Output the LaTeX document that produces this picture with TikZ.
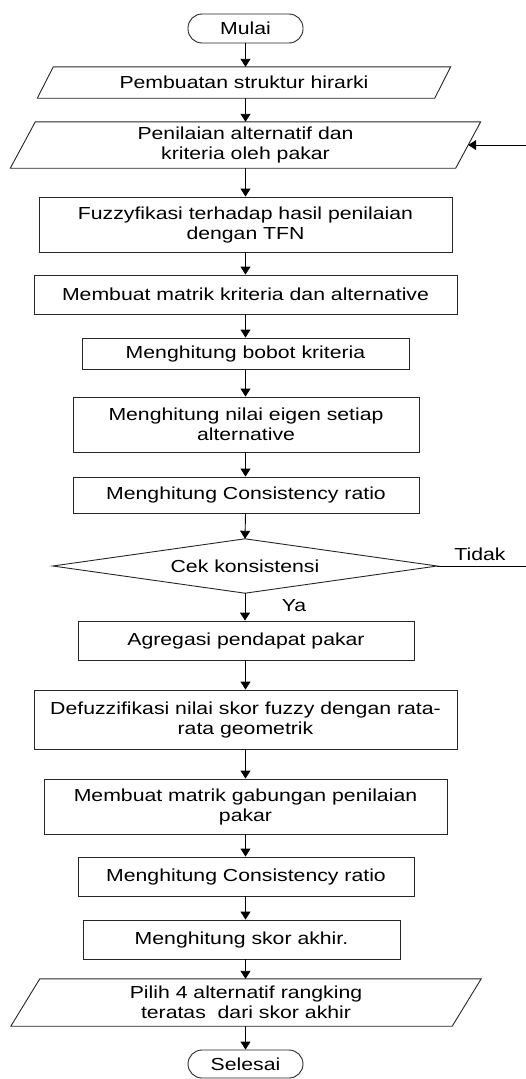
\documentclass[tikz,border=0pt]{standalone}
\usepackage{fontspec}
\setmainfont{Liberation Sans}[FakeStretch=1.22]
\usetikzlibrary{arrows.meta}
\newcommand\paradraw[2]{\draw[boxline] ([xshift=#2]#1.north west) -- ([xshift=#2]#1.north east) -- ([xshift=-#2]#1.south east) -- ([xshift=-#2]#1.south west) -- cycle;}
\begin{document}
\begin{tikzpicture}[x=1pt,y=-1pt,
  txt/.style={font=\fontsize{17.4}{20}\selectfont, align=center, inner sep=0pt},
  procbox/.style={txt, draw=black!85, line width=0.9pt, rectangle},
  termbox/.style={txt, draw=black!85, line width=0.9pt, rectangle, rounded corners=14pt, minimum width=115pt},
  plainbox/.style={txt, rectangle},
  boxline/.style={draw=black!85, line width=0.9pt},
  arr/.style={line width=0.9pt, -{Triangle[length=8pt,width=10pt]}},
  ln/.style={line width=0.9pt}]
\useasboundingbox (0,0) rectangle (526,1079);

\node[termbox, minimum height=29pt] (start) at (245.5,28.5) {Mulai};
\node[plainbox, minimum width=397pt, minimum height=31pt] (p1) at (244,82.5) {Pembuatan struktur hirarki};
\paradraw{p1}{8}
\node[plainbox, minimum width=445pt, minimum height=46pt] (p2) at (245.5,145) {Penilaian alternatif dan\\kriteria oleh pakar};
\paradraw{p2}{12.5}
\node[procbox, minimum width=413pt, minimum height=55pt] (b1) at (245.5,224.5) {Fuzzyfikasi terhadap hasil penilaian\\dengan TFN};
\node[procbox, minimum width=423pt, minimum height=39pt] (b2) at (245.5,294.5) {Membuat matrik kriteria dan alternative};
\node[procbox, minimum width=327pt, minimum height=31pt] (b3) at (245.5,353.5) {Menghitung bobot kriteria};
\node[procbox, minimum width=346pt, minimum height=55pt] (b4) at (246,424.5) {Menghitung nilai eigen setiap\\alternative};
\node[procbox, minimum width=346pt, minimum height=36pt] (b5) at (246,495) {Menghitung Consistency ratio};
\node[plainbox, minimum width=384pt, minimum height=54pt] (d) at (245,566) {Cek konsistensi};
\draw[boxline] (d.north) -- (d.east) -- (d.south) -- (d.west) -- cycle;
\node[procbox, minimum width=336pt, minimum height=39pt] (b6) at (246,640.5) {Agregasi pendapat pakar};
\node[procbox, minimum width=423pt, minimum height=59pt] (b7) at (245.5,719.5) {Defuzzifikasi nilai skor fuzzy dengan rata-\\rata geometrik};
\node[procbox, minimum width=403pt, minimum height=55pt] (b8) at (245.5,806.5) {Membuat matrik gabungan penilaian\\pakar};
\node[procbox, minimum width=336pt, minimum height=39pt] (b9) at (246,876.5) {Menghitung Consistency ratio};
\node[procbox, minimum width=317pt, minimum height=39pt] (b10) at (241.5,939.5) {Menghitung skor akhir.};
\node[plainbox, minimum width=441pt, minimum height=47pt] (p3) at (246,1002.5) {Pilih 4 alternatif rangking\\teratas\ \ dari skor akhir};
\paradraw{p3}{14.5}
\node[termbox, minimum height=28pt] (stop) at (245.5,1064) {Selesai};

\node[txt] (tidak) at (480,554) {Tidak};
\node[txt] (ya) at (294,606) {Ya};

\coordinate (tin) at (526,145);
\coordinate (tout) at (526,566);

\draw[arr] (start.south) -- (start.south |- p1.north);
\draw[arr] (start.south |- p1.south) -- (start.south |- p2.north);
\draw[arr] (start.south |- p2.south) -- (start.south |- b1.north);
\draw[arr] (start.south |- b1.south) -- (start.south |- b2.north);
\draw[arr] (start.south |- b2.south) -- (start.south |- b3.north);
\draw[arr] (start.south |- b3.south) -- (start.south |- b4.north);
\draw[arr] (start.south |- b4.south) -- (start.south |- b5.north);
\draw[arr] (start.south |- b5.south) -- (d.north);
\draw[arr] (d.south) -- (d.south |- b6.north);
\draw[arr] (start.south |- b6.south) -- (start.south |- b7.north);
\draw[arr] (start.south |- b7.south) -- (start.south |- b8.north);
\draw[arr] (start.south |- b8.south) -- (start.south |- b9.north);
\draw[arr] (start.south |- b9.south) -- (start.south |- b10.north);
\draw[arr] (start.south |- b10.south) -- (start.south |- p3.north);
\draw[arr] (start.south |- p3.south) -- (stop.north);
\draw[ln] (d.east) -- (tout);
\draw[arr] (tin) -- (p2.east);
\end{tikzpicture}
\end{document}
